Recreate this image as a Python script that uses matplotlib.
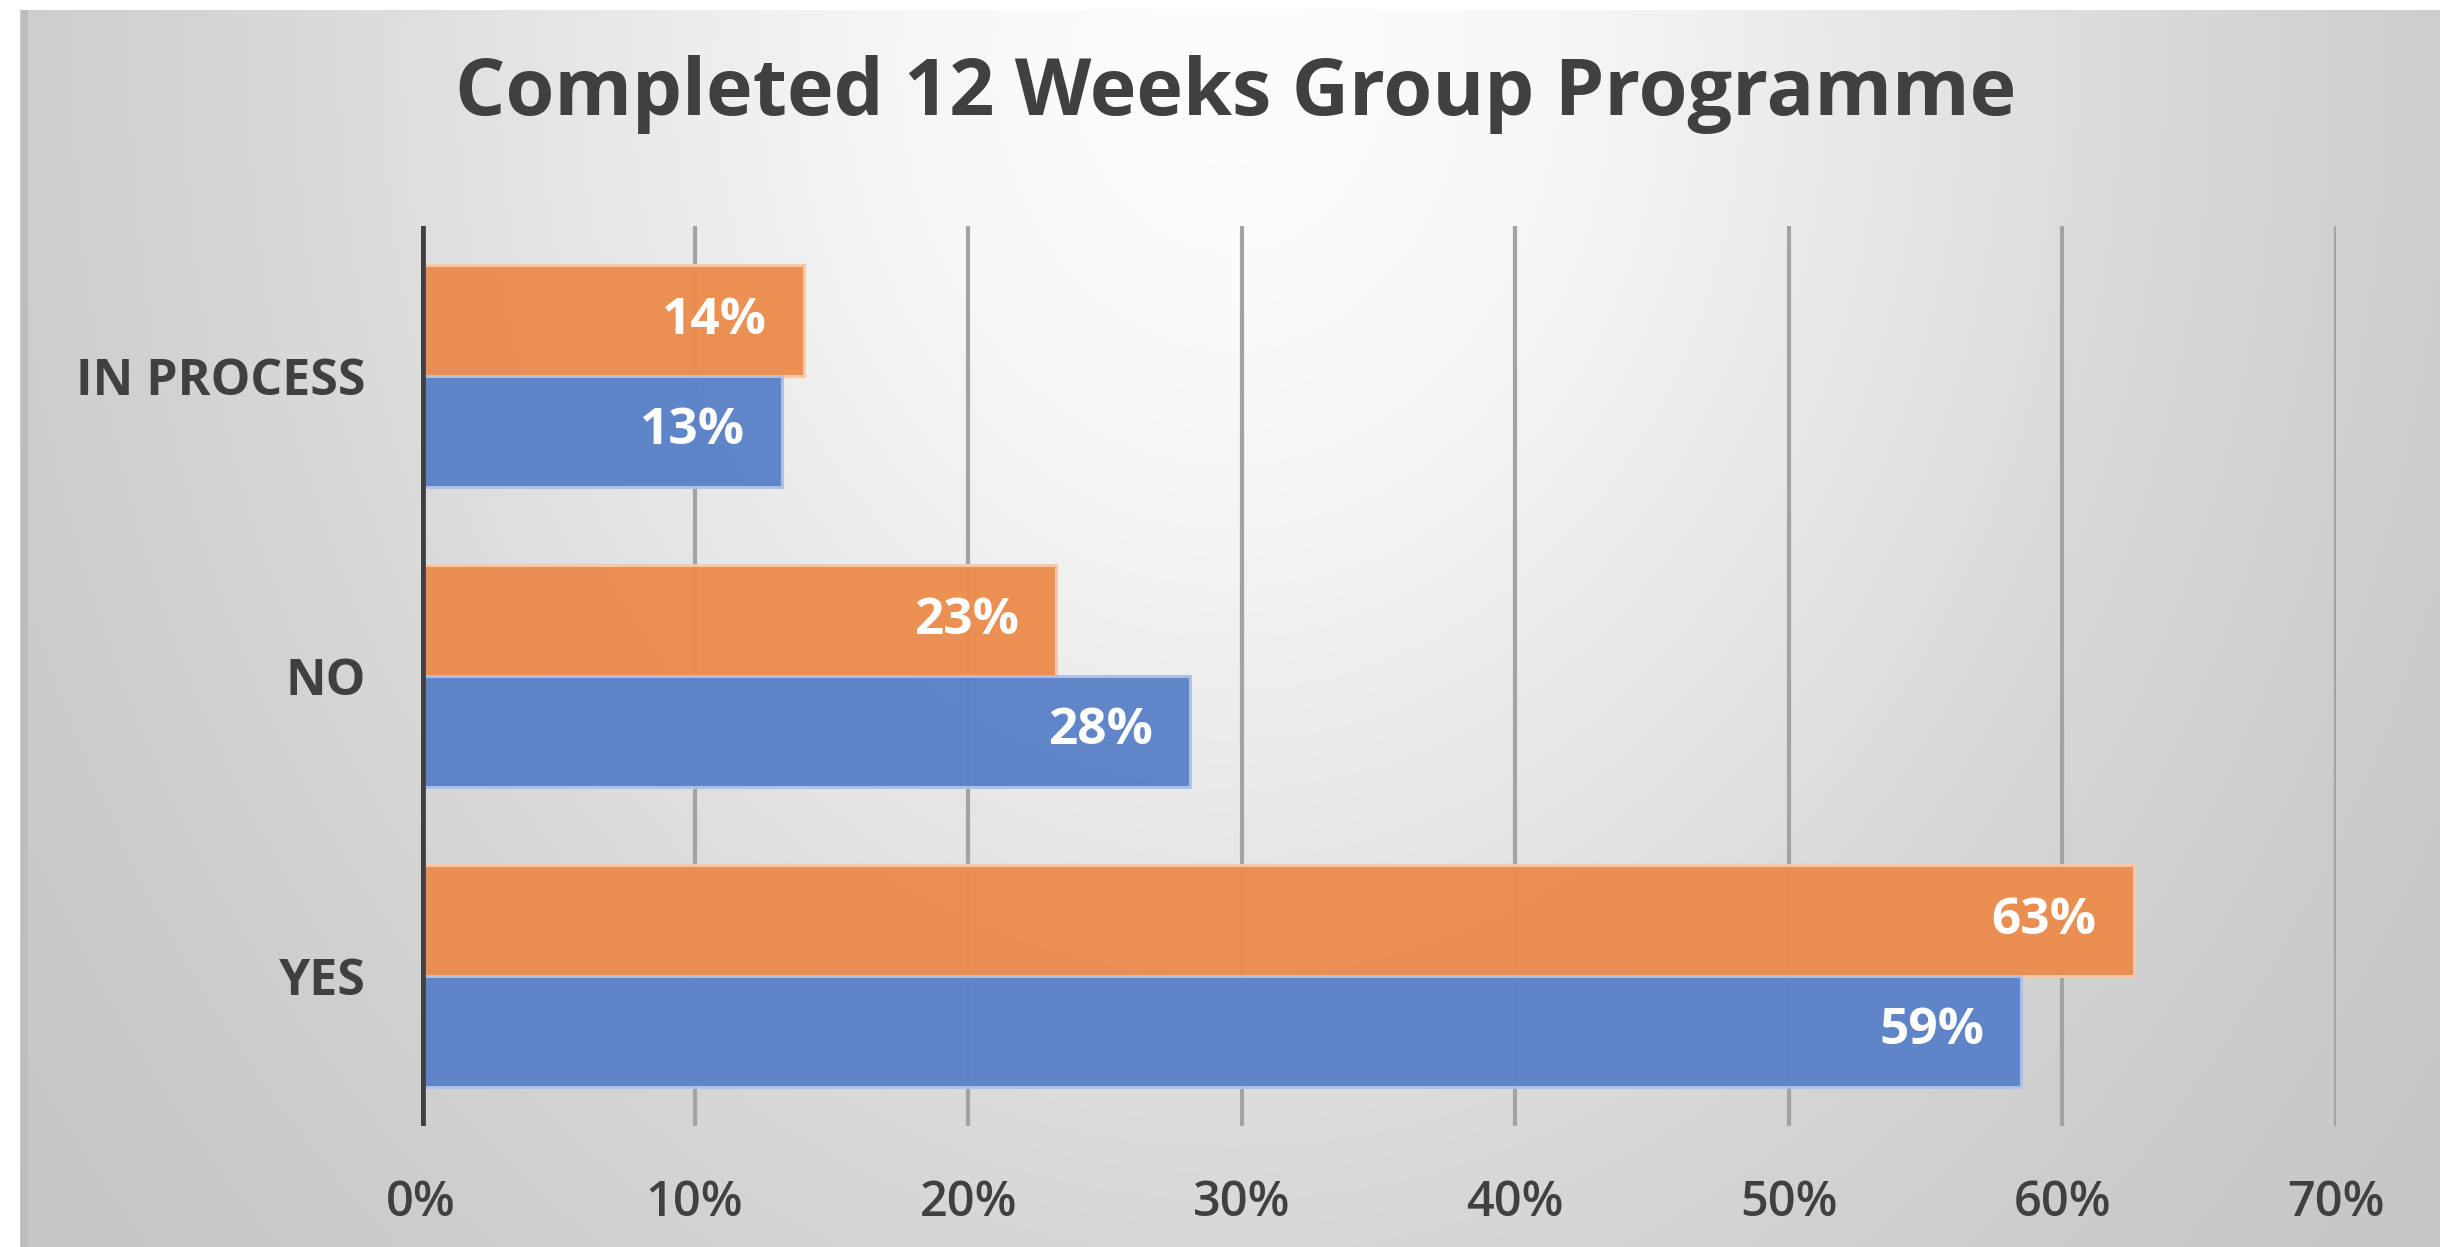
import numpy as np
import matplotlib.pyplot as plt

# Chart data
categories = ['YES', 'NO', 'IN PROCESS']
blue_values = [0.585, 0.281, 0.132]
orange_values = [0.626, 0.232, 0.140]
blue_labels = ['59%', '28%', '13%']
orange_labels = ['63%', '23%', '14%']
x_ticks = [0, 0.1, 0.2, 0.3, 0.4, 0.5, 0.6, 0.7]
x_tick_labels = ['0%', '10%', '20%', '30%', '40%', '50%', '60%', '70%']
title = 'Completed 12 Weeks Group Programme'

W, H = 2440, 1247
fig = plt.figure(figsize=(W / 100, H / 100), dpi=100)
fig.patch.set_facecolor('white')

# Radial grey gradient background (Excel style)
bg = fig.add_axes([20 / W, 0, 1 - 20 / W, 1 - 10 / H])
bg.set_axis_off()
xx, yy = np.meshgrid(np.linspace(20, W, 400), np.linspace(10, H, 220))
d2 = ((xx - 1230) / 1230) ** 2 + ((yy - 60) / 1500) ** 2
grey = 0.76 + 0.23 * np.exp(-1.6 * d2)
bg.imshow(np.dstack([grey, grey, grey]), aspect='auto', extent=[0, 1, 0, 1],
          origin='upper', interpolation='bilinear')
bg.set_xlim(0, 1)
bg.set_ylim(0, 1)
bg.axvline(0.0015, color='#bdbdbd', lw=5)

# Main axes
ax = fig.add_axes([421 / W, 1 - 1126 / H, (2336 - 421) / W, (1126 - 226) / H])
ax.set_facecolor('none')

text_color = '#404040'
font = 'Open Sans'
h = 0.37
y = np.arange(len(categories))

ax.barh(y + h / 2, orange_values, height=h, color='#ec8c4e', edgecolor='#f7c9a8',
        linewidth=2.2, alpha=0.97, zorder=3)
ax.barh(y - h / 2, blue_values, height=h, color='#5b82c8', edgecolor='#aec1e6',
        linewidth=2.2, alpha=0.97, zorder=3)

for yi, v, lab in zip(y, orange_values, orange_labels):
    ax.text(v - 0.0135, yi + h / 2, lab, ha='right', va='center', color='white',
            fontsize=37, fontweight='bold', family=font, zorder=4)
for yi, v, lab in zip(y, blue_values, blue_labels):
    ax.text(v - 0.0135, yi - h / 2, lab, ha='right', va='center', color='white',
            fontsize=37, fontweight='bold', family=font, zorder=4)

ax.set_xlim(0, 0.7)
ax.set_ylim(-0.5, 2.5)
ax.set_xticks(x_ticks)
ax.set_xticklabels(x_tick_labels, fontsize=35, color=text_color, family=font,
                   fontweight='semibold')
ax.set_yticks(y)
ax.set_yticklabels(categories, fontsize=36, color=text_color, family=font,
                   fontweight='bold')
ax.tick_params(axis='x', length=0, pad=38)
ax.tick_params(axis='y', length=0, pad=40)

for xt in x_ticks[1:]:
    ax.axvline(xt, color='#a3a3a3', lw=3, zorder=1)
ax.axvline(0, color='#404040', lw=7, zorder=5)
for s in ax.spines.values():
    s.set_visible(False)

fig.text(1236 / W, 1 - 95 / H, title, ha='center', va='center', fontsize=57,
         fontweight='bold', color=text_color, family=font)

fig.savefig('out.png', dpi=100)
